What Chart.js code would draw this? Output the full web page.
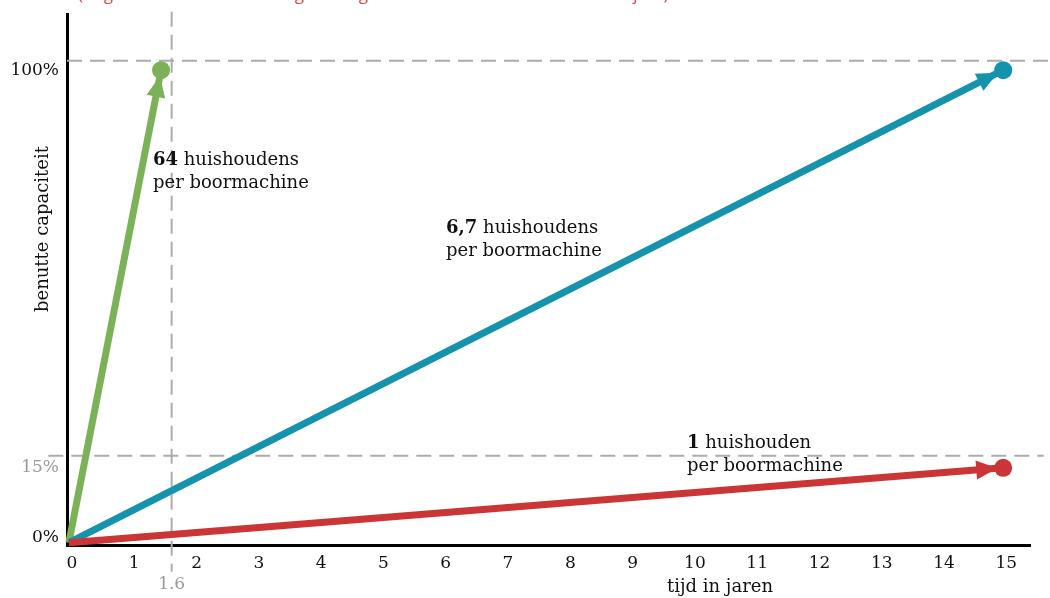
<!DOCTYPE html>
<html>
<head>
<meta charset="utf-8">
<script src="https://cdn.jsdelivr.net/npm/chart.js@4"></script>
<style>
  html, body { margin: 0; padding: 0; background: #fff; }
  #wrap { width: 1050px; height: 598px; }
</style>
</head>
<body>
<div id="wrap"><canvas id="chart" width="1050" height="598"></canvas></div>
<script>
// Data
const xTicks = [0, 1, 2, 3, 4, 5, 6, 7, 8, 9, 10, 11, 12, 13, 14, 15];
const yTicks = [0, 15, 100];
const origin = { x: -0.05, y: -1 };
const greenEnd = { x: 1.43, y: 100 };   // 64 huishoudens per boormachine
const blueEnd = { x: 14.95, y: 100 };   // 6,7 huishoudens per boormachine
const redEnd = { x: 14.95, y: 15 };     // 1 huishouden per boormachine
const markYears = 1.6;
const line100 = 102;
const line15 = 17.6;

const GREEN = "#7cb257";
const BLUE = "#1593ad";
const RED = "#cc3535";
const DASH = "#acacac";
const SERIF = "'DejaVu Serif', serif";

function arrowSet(end, color, order) {
  return {
    data: [origin, end],
    borderColor: color,
    backgroundColor: color,
    borderWidth: 7,
    borderCapStyle: "butt",
    pointRadius: [0, 9],
    pointHoverRadius: [0, 9],
    pointBorderWidth: 0,
    pointBackgroundColor: color,
    showLine: true,
    clip: false,
    order: order,
    isArrow: true
  };
}

function dashSet(points) {
  return {
    data: points,
    borderColor: DASH,
    borderWidth: 2,
    borderDash: [15, 8],
    pointRadius: 0,
    showLine: true,
    clip: false,
    order: 5
  };
}

// Arrowheads, annotations and titles
const decorations = {
  id: "decorations",
  afterDatasetsDraw(chart) {
    const ctx = chart.ctx;
    chart.data.datasets.forEach((ds, i) => {
      if (!ds.isArrow) return;
      const pts = chart.getDatasetMeta(i).data;
      const a = pts[0], b = pts[1];
      const ang = Math.atan2(b.y - a.y, b.x - a.x);
      const tipX = b.x - Math.cos(ang) * 6, tipY = b.y - Math.sin(ang) * 6;
      const baseX = b.x - Math.cos(ang) * 27, baseY = b.y - Math.sin(ang) * 27;
      const nx = -Math.sin(ang) * 9.5, ny = Math.cos(ang) * 9.5;
      ctx.save();
      ctx.fillStyle = ds.borderColor;
      ctx.beginPath();
      ctx.moveTo(tipX, tipY);
      ctx.lineTo(baseX + nx, baseY + ny);
      ctx.lineTo(baseX - nx, baseY - ny);
      ctx.closePath();
      ctx.fill();
      ctx.restore();
    });
  },
  afterDraw(chart) {
    const ctx = chart.ctx;
    const xs = chart.scales.x;
    ctx.save();

    // cut-off red subtitle at the very top
    ctx.fillStyle = "#e04848";
    ctx.font = "17px 'Open Sans', sans-serif";
    ctx.textBaseline = "alphabetic";
    ctx.textAlign = "left";
    ctx.fillText("(uitgaande van 13 minuten gebruik gedurende een levensduur van 15 jaar)", 78, 0);

    // axis titles
    ctx.fillStyle = "#111";
    ctx.font = "18px " + SERIF;
    ctx.textAlign = "center";
    ctx.textBaseline = "middle";
    ctx.fillText("tijd in jaren", 720, 587);
    ctx.save();
    ctx.translate(43, 229);
    ctx.rotate(-Math.PI / 2);
    ctx.fillText("benutte capaciteit", 0, 0);
    ctx.restore();

    // 1.6 label
    ctx.fillStyle = "#9a9a9a";
    ctx.font = "17px " + SERIF;
    ctx.fillText("1.6", xs.getPixelForValue(markYears), 585);

    // annotations
    const notes = [
      { bold: "64", rest: " huishoudens", x: 153, y: 160 },
      { bold: "6,7", rest: " huishoudens", x: 446, y: 228 },
      { bold: "1", rest: " huishouden", x: 687, y: 443 }
    ];
    ctx.textAlign = "left";
    ctx.fillStyle = "#111";
    notes.forEach(n => {
      ctx.font = "bold 18px " + SERIF;
      ctx.fillText(n.bold, n.x, n.y);
      const w = ctx.measureText(n.bold).width;
      ctx.font = "18px " + SERIF;
      ctx.fillText(n.rest, n.x + w, n.y);
      ctx.fillText("per boormachine", n.x, n.y + 23);
    });
    ctx.restore();
  }
};

new Chart(document.getElementById("chart"), {
  type: "scatter",
  data: {
    datasets: [
      dashSet([{ x: -0.08, y: line100 }, { x: 15.75, y: line100 }]),
      dashSet([{ x: -0.38, y: line15 }, { x: 15.6, y: line15 }]),
      dashSet([{ x: markYears, y: 112.5 }, { x: markYears, y: -7.2 }]),
      arrowSet(greenEnd, GREEN, 3),
      arrowSet(blueEnd, BLUE, 2),
      arrowSet(redEnd, RED, 1)
    ]
  },
  options: {
    responsive: false,
    animation: false,
    events: [],
    layout: { padding: { left: 0, top: 14, right: 20, bottom: 0 } },
    plugins: {
      legend: { display: false },
      tooltip: { enabled: false }
    },
    scales: {
      x: {
        type: "linear",
        min: -0.08,
        max: 15.38,
        afterBuildTicks: s => { s.ticks = xTicks.map(v => ({ value: v })); },
        afterFit: s => { s.height = 53; },
        grid: { display: false },
        border: { display: true, color: "#000", width: 3 },
        ticks: {
          padding: 0,
          color: "#111",
          font: { family: SERIF, size: 17 }
        }
      },
      y: {
        type: "linear",
        min: -1.5,
        max: 112,
        afterBuildTicks: s => { s.ticks = yTicks.map(v => ({ value: v })); },
        afterFit: s => { s.width = 67; },
        grid: { display: false },
        border: { display: true, color: "#000", width: 3 },
        ticks: {
          padding: 0,
          color: c => (c.tick && c.tick.value === 15 ? "#9a9a9a" : "#111"),
          font: { family: SERIF, size: 17 },
          callback: v => v + "%"
        }
      }
    }
  },
  plugins: [decorations]
});
</script>
</body>
</html>
